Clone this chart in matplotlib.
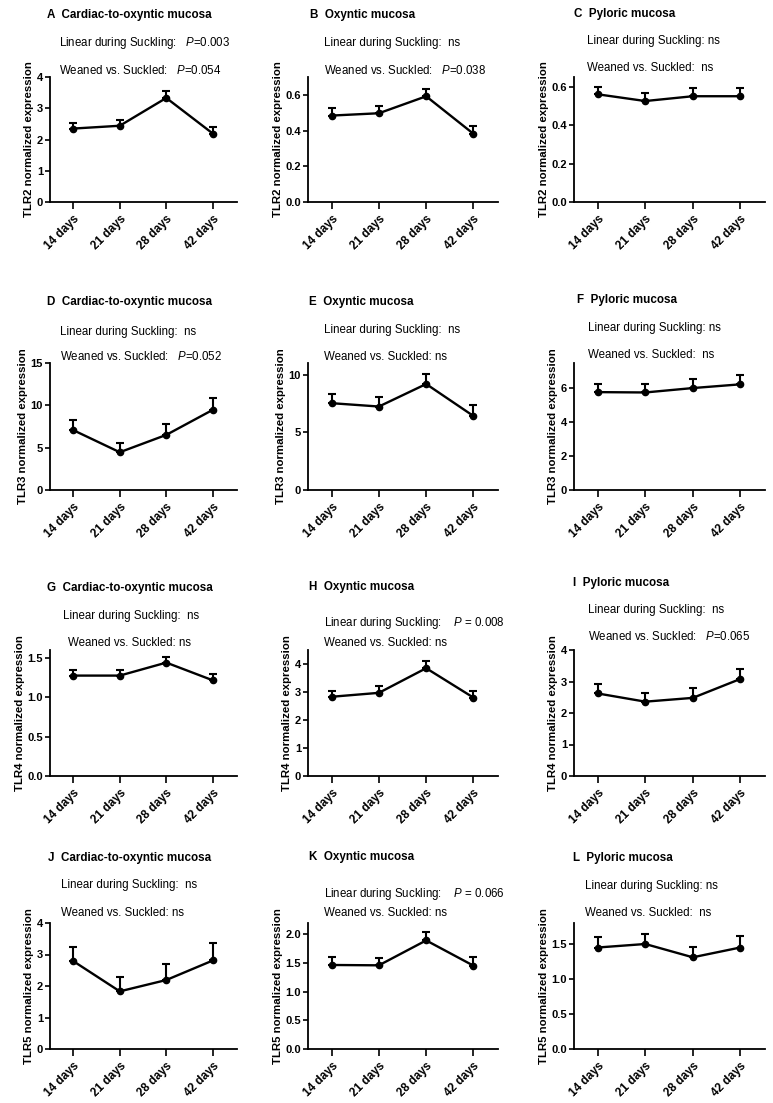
import numpy as np
import matplotlib
matplotlib.use("Agg")
import matplotlib.pyplot as plt

plt.rcParams['font.family'] = ['Liberation Sans', 'DejaVu Sans']
plt.rcParams['mathtext.fontset'] = 'custom'
plt.rcParams['mathtext.rm'] = 'Liberation Sans'
plt.rcParams['mathtext.it'] = 'Liberation Sans:italic'

days = ['14 days', '21 days', '28 days', '42 days']

panel_letters = ['A', 'B', 'C', 'D', 'E', 'F', 'G', 'H', 'I', 'J', 'K', 'L']
mucosa = ['Cardiac-to-oxyntic mucosa', 'Oxyntic mucosa', 'Pyloric mucosa'] * 4
receptors = ['TLR2'] * 3 + ['TLR3'] * 3 + ['TLR4'] * 3 + ['TLR5'] * 3

mean_A = [2.35, 2.44, 3.33, 2.19]
sem_A = [0.19, 0.19, 0.22, 0.20]
mean_B = [0.484, 0.497, 0.592, 0.382]
sem_B = [0.041, 0.041, 0.043, 0.043]
mean_C = [0.56, 0.525, 0.55, 0.55]
sem_C = [0.04, 0.04, 0.043, 0.043]
mean_D = [7.07, 4.46, 6.51, 9.47]
sem_D = [1.22, 1.14, 1.31, 1.39]
mean_E = [7.52, 7.23, 9.18, 6.41]
sem_E = [0.79, 0.79, 0.88, 0.91]
mean_F = [5.78, 5.76, 6.02, 6.24]
sem_F = [0.49, 0.49, 0.55, 0.55]
mean_G = [1.275, 1.275, 1.44, 1.215]
sem_G = [0.075, 0.075, 0.077, 0.081]
mean_H = [2.83, 2.97, 3.85, 2.80]
sem_H = [0.22, 0.23, 0.27, 0.25]
mean_I = [2.62, 2.36, 2.48, 3.08]
sem_I = [0.29, 0.26, 0.30, 0.32]
mean_J = [2.79, 1.83, 2.19, 2.81]
sem_J = [0.44, 0.46, 0.51, 0.54]
mean_K = [1.467, 1.461, 1.896, 1.455]
sem_K = [0.133, 0.127, 0.15, 0.155]
mean_L = [1.45, 1.50, 1.31, 1.45]
sem_L = [0.15, 0.14, 0.15, 0.16]

means = [mean_A, mean_B, mean_C, mean_D, mean_E, mean_F,
         mean_G, mean_H, mean_I, mean_J, mean_K, mean_L]
sems = [sem_A, sem_B, sem_C, sem_D, sem_E, sem_F,
        sem_G, sem_H, sem_I, sem_J, sem_K, sem_L]

linear_txt = ['Linear during Suckling:   $P$=0.003', 'Linear during Suckling:  ns',
              'Linear during Suckling: ns', 'Linear during Suckling:  ns',
              'Linear during Suckling:  ns', 'Linear during Suckling: ns',
              'Linear during Suckling:  ns', 'Linear during Suckling:    $P$ = 0.008',
              'Linear during Suckling:  ns', 'Linear during Suckling:  ns',
              'Linear during Suckling:    $P$ = 0.066', 'Linear during Suckling: ns']
weaned_txt = ['Weaned vs. Suckled:   $P$=0.054', 'Weaned vs. Suckled:   $P$=0.038',
              'Weaned vs. Suckled:  ns', 'Weaned vs. Suckled:   $P$=0.052',
              'Weaned vs. Suckled: ns', 'Weaned vs. Suckled:  ns',
              'Weaned vs. Suckled: ns', 'Weaned vs. Suckled: ns',
              'Weaned vs. Suckled:   $P$=0.065', 'Weaned vs. Suckled: ns',
              'Weaned vs. Suckled: ns', 'Weaned vs. Suckled:  ns']

y_max = [4, 0.7, 0.65, 15, 11, 7.5, 1.6, 4.5, 4, 4, 2.2, 1.8]
y_step = [1, 0.2, 0.2, 5, 5, 2, 0.5, 1, 1, 1, 0.5, 0.5]
y_fmt = ['%d', '%.1f', '%.1f', '%d', '%d', '%d', '%.1f', '%d', '%d', '%d', '%.1f', '%.1f']

# layout in pixels
W, H = 773, 1103
col_x = [(50, 237), (308, 498), (574, 765)]
row_y = [(77, 202), (363, 490), (650, 776), (923, 1049)]
title_pos = [(47, 15), (310, 15), (574, 14), (47, 302), (309, 302), (577, 300),
             (47, 588), (309, 587), (573, 583), (48, 858), (309, 857), (573, 858)]
lin_pos = [(59, 43), (324, 43), (587, 41), (60, 332), (324, 330), (588, 328),
           (63, 616), (324, 623), (588, 610), (61, 885), (324, 894), (585, 886)]
wea_pos = [(59, 70), (324, 70), (587, 68), (60, 357), (324, 357), (588, 355),
           (68, 643), (324, 643), (588, 637), (61, 913), (324, 913), (585, 913)]

fig = plt.figure(figsize=(W / 100, H / 100), dpi=100)


def ftext(x, y, s, **kw):
    fig.text(x / W, 1 - y / H, s, va='center', ha='left', **kw)


x = np.arange(len(days))
for i in range(12):
    r, c = divmod(i, 3)
    x0, x1 = col_x[c]
    y0, y1 = row_y[r]
    ax = fig.add_axes([x0 / W, 1 - y1 / H, (x1 - x0) / W, (y1 - y0) / H])
    m = np.array(means[i])
    s = np.array(sems[i])
    ax.errorbar(x, m, yerr=[np.zeros_like(s), s], color='black', lw=1.7,
                marker='o', ms=4.5, capsize=3, capthick=1.5, elinewidth=1.5)
    ax.set_xlim(-0.5, 3.52)
    ax.set_ylim(0, y_max[i])
    ticks = np.arange(0, y_max[i] + 1e-9, y_step[i])
    ax.set_yticks(ticks)
    ax.set_yticklabels([y_fmt[i] % t for t in ticks], fontweight='bold', fontsize=8)
    ax.set_xticks(x)
    ax.set_xticklabels(days, rotation=45, ha='right', rotation_mode='anchor',
                       fontweight='bold', fontsize=8.5)
    for side in ['top', 'right']:
        ax.spines[side].set_visible(False)
    for side in ['left', 'bottom']:
        ax.spines[side].set_linewidth(1.3)
    ax.tick_params(axis='x', direction='out', length=5, width=1.2, pad=3)
    ax.tick_params(axis='y', direction='out', length=3.5, width=1.2, pad=1.5)
    ax.set_ylabel(receptors[i] + ' normalized expression', fontweight='bold',
                  fontsize=8.2, labelpad=2)

    ftext(*title_pos[i], panel_letters[i] + '  ' + mucosa[i], fontweight='bold', fontsize=8.4)
    ftext(*lin_pos[i], linear_txt[i], fontsize=8.3)
    ftext(*wea_pos[i], weaned_txt[i], fontsize=8.3)

fig.savefig('out.png', dpi=100)
